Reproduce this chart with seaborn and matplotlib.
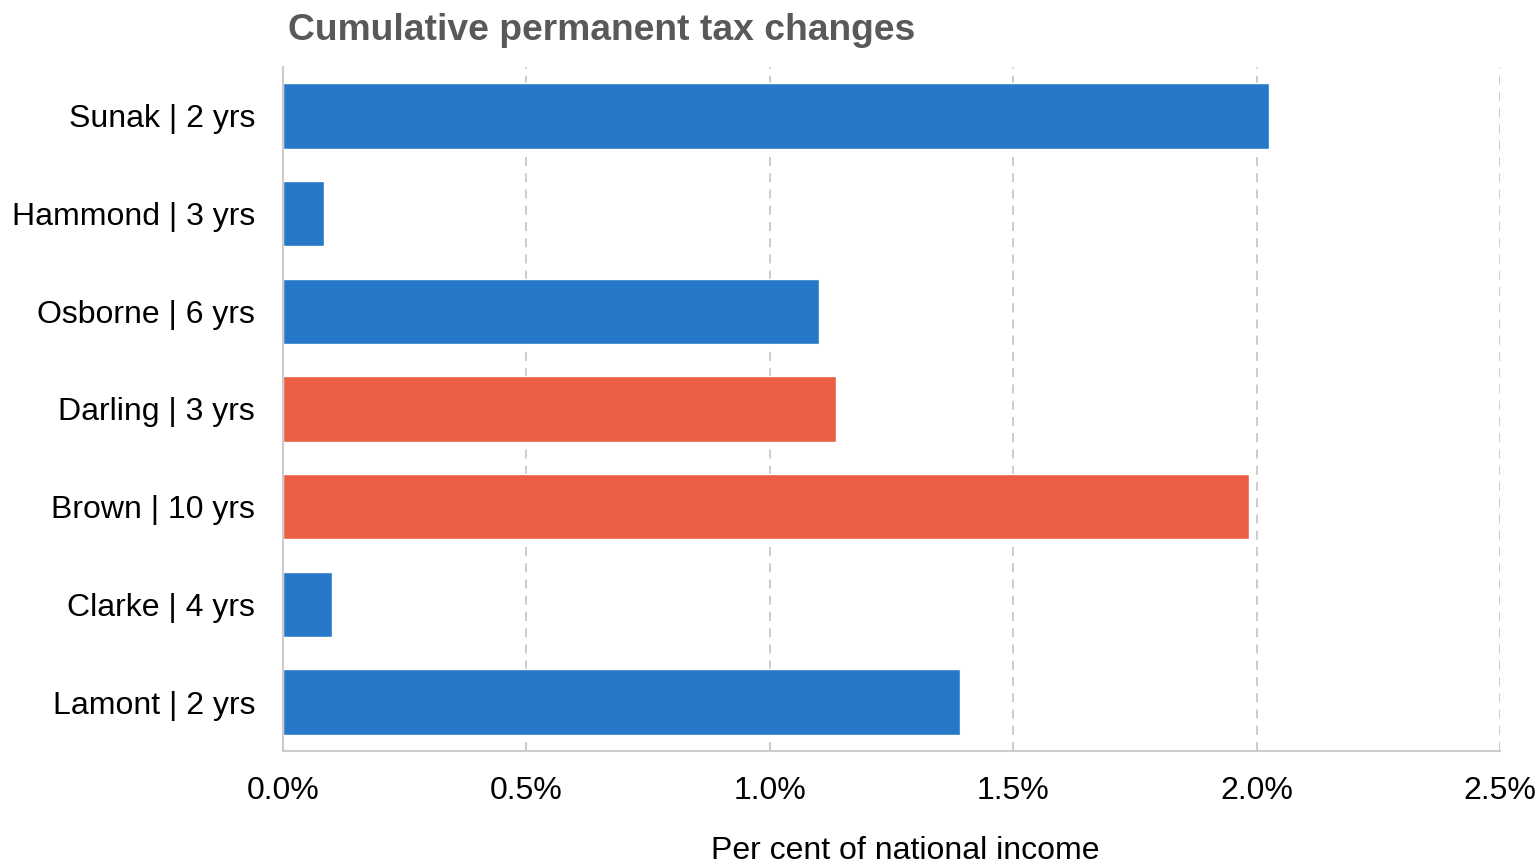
import matplotlib
matplotlib.use("Agg")
import matplotlib.pyplot as plt
import seaborn as sns
import pandas as pd
from matplotlib.ticker import FuncFormatter

chancellors = ["Sunak | 2 yrs", "Hammond | 3 yrs", "Osborne | 6 yrs", "Darling | 3 yrs",
               "Brown | 10 yrs", "Clarke | 4 yrs", "Lamont | 2 yrs"]
values = [2.025, 0.084, 1.101, 1.136, 1.984, 0.100, 1.391]
party = ["Con", "Con", "Con", "Lab", "Lab", "Con", "Con"]
xticks = [0.0, 0.5, 1.0, 1.5, 2.0, 2.5]

party_colors = {"Con": "#2778C8", "Lab": "#EC5E44"}

sns.set_theme(style="white")
plt.rcParams["font.family"] = ["Liberation Sans", "DejaVu Sans"]

df = pd.DataFrame({"name": chancellors, "value": values, "party": party})

fig = plt.figure(figsize=(15.4, 8.65), dpi=100)
ax = fig.add_axes([283 / 1540, 1 - 751 / 865, (1500 - 283) / 1540, (751 - 67) / 865])

sns.barplot(data=df, y="name", x="value", hue="party", palette=party_colors,
            order=chancellors, dodge=False, width=0.67, legend=False, ax=ax,
            saturation=1)

ax.set_xlim(0, 2.5)
ax.set_ylim(6.5, -0.5)
ax.set_xticks(xticks)
ax.xaxis.set_major_formatter(FuncFormatter(lambda v, p: f"{v:.1f}%"))
ax.grid(axis="x", color="#c8c8c8", linestyle=(0, (5, 4)), linewidth=1.3)
ax.grid(axis="y", visible=False)
ax.set_axisbelow(True)
for s in ["top", "right"]:
    ax.spines[s].set_visible(False)
for s in ["left", "bottom"]:
    ax.spines[s].set_color("#cccccc")
    ax.spines[s].set_linewidth(1.5)
ax.tick_params(axis="both", length=0, labelsize=23, colors="black")
ax.tick_params(axis="x", pad=18)
ax.tick_params(axis="y", pad=20)
ax.set_ylabel("")
ax.set_xlabel("Per cent of national income", fontsize=23, color="black")
ax.xaxis.set_label_coords((905 - 283) / (1500 - 283), -(851 - 751) / (751 - 67))
ax.xaxis.label.set_va("center")

fig.text(288 / 1540, 1 - 31 / 865, "Cumulative permanent tax changes", fontsize=26.8,
         fontweight="bold", color="#595959", ha="left", va="center")

fig.savefig("out.png", dpi=100)
